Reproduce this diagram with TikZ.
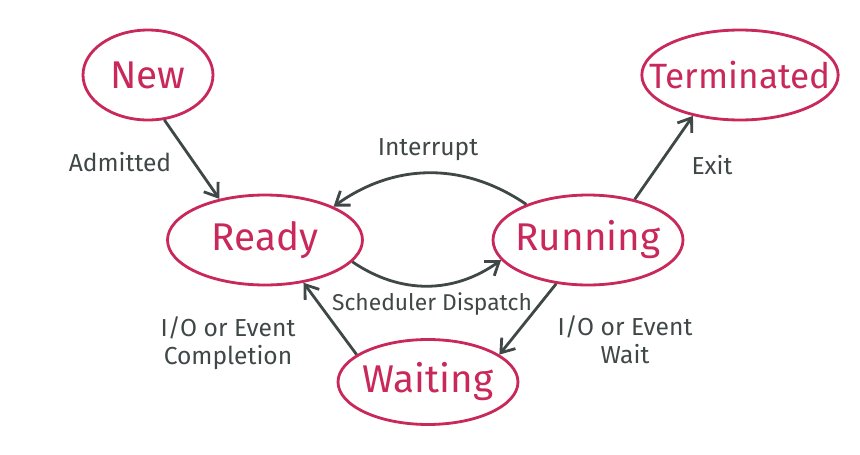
\documentclass[tikz,border=0pt]{standalone}
\usepackage{fontspec}
\setmainfont{Fira Sans}
\usetikzlibrary{arrows.meta, positioning, shapes.geometric}
\definecolor{statered}{HTML}{C8285A}
\definecolor{inkgray}{HTML}{3F4747}
\begin{document}
\begin{tikzpicture}[x=0.02cm, y=-0.02cm,
        state/.style={ellipse, draw=statered, line width=1.6pt, text=statered,
                      font=\fontsize{22}{24}\selectfont, inner sep=-10pt},
        trans/.style={draw=inkgray, line width=1.6pt, -{Straight Barb[length=7pt, width=10pt]}},
        lbl/.style={text=inkgray, font=\fontsize{14}{16}\selectfont, align=center}
    ]
        \useasboundingbox (0,0) rectangle (860,454);
        % Zustände
        \node [state, minimum width=2.6cm, minimum height=1.8cm] (new) at (148,75) {New};
        \node [state, minimum width=3.9cm, minimum height=1.8cm, font=\fontsize{20}{22}\selectfont, inner sep=-12pt] (term) at (740,75) {Terminated};
        \node [state, minimum width=3.9cm, minimum height=1.8cm] (ready) at (265,240) {Ready};
        \node [state, minimum width=3.8cm, minimum height=1.8cm] (run) at (588,240) {Running};
        \node [state, minimum width=3.6cm, minimum height=1.7cm] (wait) at (428,382) {Waiting};

        % Übergänge
        \draw [trans] (new.-70) -- (ready.138);
        \draw [trans] (run.41) -- (term.-139);
        \draw [trans] (run.150) to[bend right=35] (ready.26);
        \draw [trans] (ready.-14) to[bend right=35] (run.193);
        \draw [trans] (run.234) -- (wait.21);
        \draw [trans] (wait.159) -- (ready.-48);

        % Beschriftungen
        \node [lbl] (admitted) at (120,162) {Admitted};
        \node [lbl] (exit) at (712,165) {Exit};
        \node [lbl] (interrupt) at (428,150) {Interrupt};
        \node [lbl, font=\fontsize{13}{15}\selectfont] (dispatch) at (432,304) {Scheduler Dispatch};
        \node [lbl] (iowait) at (625,340) {I/O or Event\\Wait};
        \node [lbl] (iodone) at (228,343) {I/O or Event\\Completion};
    \end{tikzpicture}
\end{document}
